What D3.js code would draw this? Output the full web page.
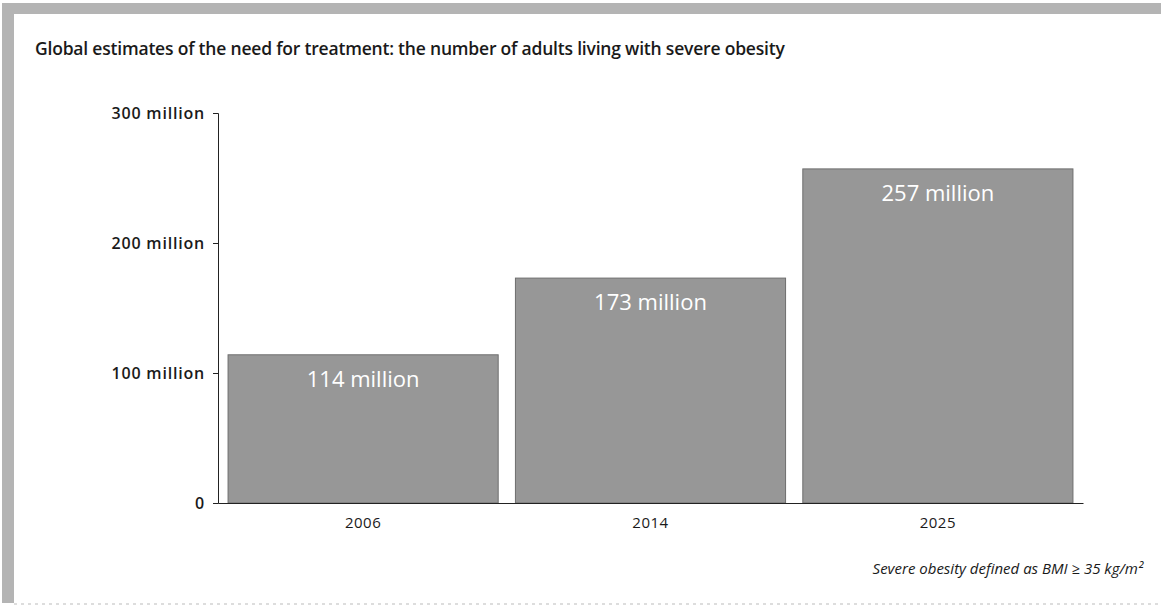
<!DOCTYPE html>
<html><head><meta charset="utf-8">
<script src="https://cdn.jsdelivr.net/npm/d3@7"></script>
<style>
body{margin:0;background:#fff;}
svg{display:block;font-family:"Open Sans","Noto Sans",sans-serif;}
</style></head>
<body><svg id="c" width="1161" height="606"></svg>
<script>
const categories = ["2006", "2014", "2025"];
const values = [114, 173, 257];
const valueLabels = ["114 million", "173 million", "257 million"];
const yTicks = [0, 100, 200, 300];
const yTickLabels = ["0", "100 million", "200 million", "300 million"];
const title = "Global estimates of the need for treatment: the number of adults living with severe obesity";
const footnote = "Severe obesity defined as BMI \u2265 35 kg/m\u00B2";

const svg = d3.select("#c");
// scan border strips
svg.append("rect").attr("x",0).attr("y",0).attr("width",1161).attr("height",606).attr("fill","#fff");
svg.append("rect").attr("x",2).attr("y",3).attr("width",1159).attr("height",11).attr("fill","#b4b4b4");
svg.append("rect").attr("x",2).attr("y",3).attr("width",12).attr("height",600).attr("fill","#b4b4b4");
svg.append("line").attr("x1",14).attr("x2",1161).attr("y1",604).attr("y2",604).attr("stroke","#bbb").attr("stroke-dasharray","3,4");

svg.append("text").attr("x",35).attr("y",55).attr("font-size",17.5).attr("fill","#1a1a1a")
  .attr("font-weight",600).attr("letter-spacing",-0.2).text(title);

const x = d3.scaleBand().domain(categories).range([218,1083]).paddingInner(0.06).paddingOuter(0.035);
const y = d3.scaleLinear().domain([0,300]).range([503,113]);

svg.selectAll("rect.bar").data(values).join("rect").attr("class","bar")
  .attr("x",(d,i)=>x(categories[i])).attr("width",x.bandwidth())
  .attr("y",d=>y(d)).attr("height",d=>y(0)-y(d))
  .attr("fill","#979797").attr("stroke","#6e6e6e").attr("stroke-width",1);

svg.selectAll("text.vl").data(values).join("text").attr("class","vl")
  .attr("x",(d,i)=>x(categories[i])+x.bandwidth()/2).attr("y",d=>y(d)+32)
  .attr("text-anchor","middle").attr("font-size",22).attr("fill","#fff")
  .text((d,i)=>valueLabels[i]);

const ya = svg.append("g").attr("transform","translate(218,0)")
  .call(d3.axisLeft(y).tickValues(yTicks).tickFormat((d,i)=>yTickLabels[i]).tickSize(5).tickSizeOuter(5).tickPadding(8));
ya.selectAll("text").attr("font-size",16).attr("font-weight",600).attr("letter-spacing",0.8).attr("fill","#1a1a1a").attr("font-family","'Open Sans','Noto Sans',sans-serif");
ya.selectAll("path,line").attr("stroke","#222");

const xa = svg.append("g").attr("transform","translate(0,503)")
  .call(d3.axisBottom(x).tickSize(0).tickPadding(14));
xa.selectAll("text").attr("font-size",15).attr("font-weight",500).attr("letter-spacing",0.5).attr("fill","#1a1a1a").attr("font-family","'Open Sans','Noto Sans',sans-serif");
xa.select(".domain").attr("stroke","#222");

svg.append("text").attr("x",1143).attr("y",574).attr("text-anchor","end")
  .attr("font-size",15).attr("font-style","italic").attr("fill","#1a1a1a").text(footnote);
</script></body></html>
